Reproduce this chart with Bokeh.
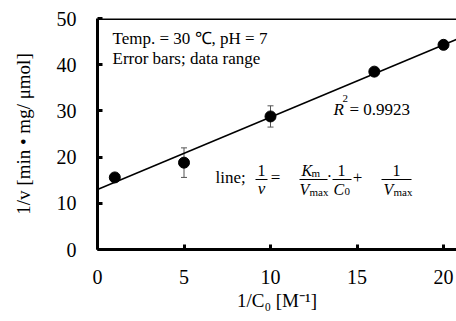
from bokeh.plotting import figure
from bokeh.models import ColumnDataSource, Whisker, Span, Label, Range1d
from bokeh.embed import file_html
from bokeh.resources import INLINE

# ---- data ----
inv_c0 = [1, 5, 10, 16, 20]
inv_v = [15.6, 18.8, 28.8, 38.5, 44.3]
inv_v_err = [0.5, 3.2, 2.3, 0.5, 0.5]
fit_slope = 1.565
fit_intercept = 13.0
fit_x = [0, 21]
r_squared = "0.9923"
x_ticks = [0, 5, 10, 15, 20]
y_ticks = [0, 10, 20, 30, 40, 50]

SERIF = "Liberation Serif"

p = figure(width=456, height=321, output_backend="svg",
           toolbar_location=None, x_range=Range1d(0, 20.75), y_range=Range1d(0, 50),
           min_border_left=97, min_border_right=0, min_border_top=18, min_border_bottom=72)
p.background_fill_color = "white"
p.border_fill_color = "white"
p.outline_line_color = None
p.grid.grid_line_color = None

for ax in (p.xaxis[0], p.yaxis[0]):
    ax.axis_line_width = 3
    ax.axis_line_color = "black"
    ax.major_tick_in = 5
    ax.major_tick_out = 0
    ax.major_tick_line_width = 3
    ax.minor_tick_line_color = None
    ax.major_label_text_font = SERIF
    ax.major_label_text_font_size = "20px"
    ax.major_label_text_color = "black"
    ax.axis_label_text_font = SERIF
    ax.axis_label_text_font_style = "normal"
    ax.axis_label_text_font_size = "19px"
    ax.axis_label_text_color = "black"

p.xaxis.ticker = x_ticks
p.yaxis.ticker = y_ticks
p.xaxis.major_label_standoff = 20
p.yaxis.major_label_standoff = 21
p.xaxis.axis_label = "1/C\u2080 [M\u207b\u00b9]"
p.yaxis.axis_label = "1/v [min \u2022 mg/ \u03bcmol]"
p.xaxis.axis_label_standoff = 3
p.yaxis.axis_label_standoff = 20

# top border
p.add_layout(Span(location=50, dimension="width", line_color="black", line_width=3))

src = ColumnDataSource(dict(x=inv_c0, y=inv_v,
                            lo=[a - b for a, b in zip(inv_v, inv_v_err)],
                            hi=[a + b for a, b in zip(inv_v, inv_v_err)]))

# trend line
p.line(fit_x, [fit_intercept + fit_slope * xx for xx in fit_x], line_color="black", line_width=1.5)

w = Whisker(base="x", upper="hi", lower="lo", source=src, level="underlay",
            line_color="#555555", line_width=1)
w.upper_head.size = 6
w.lower_head.size = 6
w.upper_head.line_color = "#555555"
w.lower_head.line_color = "#555555"
p.add_layout(w)

p.scatter("x", "y", source=src, size=11, fill_color="black", line_color="black")

# helpers: page pixel -> data
def dx(px):
    return (px - 97) / 17.3

def dy(py):
    return (249 - py) / 4.62

TEXT_SHIFT = 6

def lab(text, px, py, size=17, style="normal", align="left", font=SERIF):
    p.add_layout(Label(x=dx(px), y=dy(py - TEXT_SHIFT), text=text, text_font=font,
                       text_font_size=f"{size}px", text_font_style=style,
                       text_align=align, text_baseline="alphabetic", text_color="black"))

lab("Temp. = 30  \u2103, pH = 7", 112, 44)
lab("Error bars; data range", 112, 64)

lab("R", 333, 115, style="italic")
lab("2", 342, 104, size=11)
lab("= " + r_squared, 349, 115)

# equation
lab("line;", 215, 183)
lab("1", 261, 176, size=16, align="center")
lab("v", 261, 194, size=17, style="italic", align="center")
lab("=", 275, 183, size=17, align="center")
lab("K", 301, 176, size=16, style="italic")
lab("m", 311, 178, size=11)
lab("V", 299, 195, size=16, style="italic")
lab("max", 309, 197, size=11)
lab("\u00b7", 329, 182, size=16, align="center")
lab("1", 341, 176, size=16, align="center")
lab("C", 333, 195, size=16, style="italic")
lab("0", 344, 197, size=11)
lab("+", 357, 183, size=17, align="center")
lab("1", 396, 176, size=16, align="center")
lab("V", 383, 195, size=16, style="italic")
lab("max", 393, 197, size=11)

bars_x0 = [dx(255), dx(299), dx(332), dx(381)]
bars_x1 = [dx(267), dx(327), dx(351), dx(411)]
p.segment(x0=bars_x0, y0=[dy(179)] * 4, x1=bars_x1, y1=[dy(179)] * 4,
          line_color="black", line_width=1)

open("out.html", "w").write(file_html(p, INLINE))
